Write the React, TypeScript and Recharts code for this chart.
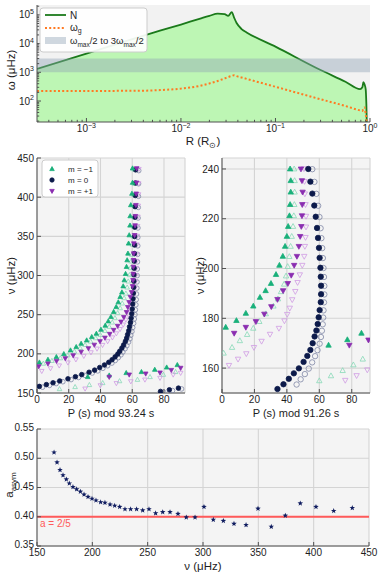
import React from "react";
import {
  Area,
  CartesianGrid,
  ComposedChart,
  Line,
  ReferenceArea,
  ReferenceLine,
  Scatter,
  ScatterChart,
  XAxis,
  YAxis,
} from "recharts";

const FONT = '"Liberation Sans", Arial, Helvetica, sans-serif';
const INK = "#1e1e1e";
const FRAME = "#505050";
const BG = "#f4f4f4";
const GRID = "#d4d4d4";
const GAP = 3;

const N_GREEN = "#1b7a1b";
const N_FILL = "#bdf6b4";
const ORANGE = "#ff7a22";
const BAND = "#8ea2b4";
const GREEN = "#19b07a";
const GREEN_LIGHT = "#88d9b7";
const NAVY = "#0c1a4a";
const NAVY_LIGHT = "#7f87a6";
const PURPLE = "#8a2db0";
const PURPLE_LIGHT = "#cf9be3";
const RED = "#ff5a5a";
const STAR = "#101d60";

// ---- propagation diagram (top)
const radius = [3e-4, 1e-3, 3e-3, 6e-3, 1e-2, 0.016, 0.02, 0.0245, 0.029, 0.0316, 0.0345, 0.0365, 0.0388, 0.0438, 0.0495, 0.1, 0.3, 0.55, 0.785, 0.83, 0.851, 0.875, 0.9, 0.915, 0.93];
const bruntN = [1.3e3, 4.5e3, 1.4e4, 2.8e4, 4.6e4, 7.4e4, 9.2e4, 1.1e5, 1.05e5, 9.2e4, 1.25e5, 8.0e4, 5.2e4, 3.2e4, 2.45e4, 7.8e3, 1.2e3, 4.7e2, 2.6e2, 3.0e2, 4.5e2, 3.8e2, 2.6e2, 80, 8];
const omegaG = [225, 225, 226, 240, 270, 340, 410, 500, 610, 680, 750, 790, 735, 660, 590, 313, 115, 67, 47, 45, 55, 60, 35, 22, 8];
const radiusTicks = [4e-4, 5e-4, 6e-4, 7e-4, 8e-4, 9e-4, 1e-3, 2e-3, 3e-3, 4e-3, 5e-3, 6e-3, 7e-3, 8e-3, 9e-3, 1e-2, 2e-2, 3e-2, 4e-2, 5e-2, 6e-2, 7e-2, 8e-2, 9e-2, 0.1, 0.2, 0.3, 0.4, 0.5, 0.6, 0.7, 0.8, 0.9, 1];
const omegaTicks = [20, 30, 40, 50, 60, 70, 80, 90, 100, 200, 300, 400, 500, 600, 700, 800, 900, 1e3, 2e3, 3e3, 4e3, 5e3, 6e3, 7e3, 8e3, 9e3, 1e4, 2e4, 3e4, 4e4, 5e4, 6e4, 7e4, 8e4, 9e4, 1e5, 2e5];
const bandLow = 1000;
const bandHigh = 3000;

// ---- échelle, left (ΔΠ = 93.24 s): [P mod ΔΠ, ν]
const leftM0 = [[77.8,152.0],[83.4,154.1],[89.1,156.2],[1.5,158.4],[5.9,160.7],[10.1,163.0],[14.3,165.4],[19.5,168.1],[24.2,170.8],[28.2,173.5],[32.8,176.5],[36.3,179.2],[39.5,182.5],[42.5,185.8],[45.2,189.2],[47.3,192.5],[49.2,196.1],[50.9,199.7],[52.1,203.3],[53.5,207.5],[54.6,211.4],[55.7,216.0],[56.5,220.2],[57.1,224.7],[57.8,229.5],[58.3,234.6],[58.9,240.0],[59.3,245.5],[59.7,251.2],[60.0,257.2],[60.3,263.6],[60.5,270.2],[60.7,277.4],[60.9,284.9],[61.0,292.8],[61.1,300.9],[61.2,309.3],[61.3,318.4],[61.4,328.0],[61.5,338.9],[61.5,349.7],[61.6,361.7],[61.7,374.4],[61.8,387.9],[61.9,402.1],[62.0,418.1],[62.1,434.9]];
const leftM0Open = [[79.8,151.0],[85.4,153.1],[91.1,155.2],[3.5,157.4],[7.9,159.7],[12.1,162.0],[16.3,164.4],[21.5,167.1],[26.2,169.8],[30.2,172.5],[34.8,175.5],[38.3,178.2],[41.5,181.5],[44.5,184.8],[47.2,188.2],[49.3,191.5],[51.2,195.1],[52.9,198.7],[54.1,202.3],[55.5,206.5],[56.6,210.4],[57.7,215.0],[58.5,219.2],[59.1,223.7],[59.8,228.5],[60.3,233.6],[60.9,239.0],[61.3,244.5],[61.7,250.2],[62.0,256.2],[62.3,262.6],[62.5,269.2],[62.7,276.4],[62.9,283.9],[63.0,291.8],[63.1,299.9],[63.2,308.3],[63.3,317.4],[63.4,327.0],[63.5,337.9],[63.5,348.7],[63.6,360.7],[63.7,373.4],[63.8,386.9],[63.9,401.1],[64.0,417.1],[64.1,433.9]];
const leftMm1 = [[32.0,170.5],[45.5,172.5],[56.2,175.6],[65.8,176.9],[74.2,179.8],[81.7,182.7],[88.4,185.8],[1.5,189.1],[6.9,192.6],[12.2,196.0],[16.9,199.8],[21.1,204.5],[24.7,208.8],[27.8,213.0],[31.3,217.3],[34.5,221.6],[37.4,225.8],[40.3,230.9],[43.0,236.1],[44.9,241.6],[46.6,247.2],[48.3,253.6],[49.9,259.9],[51.2,265.9],[52.4,272.7],[53.5,278.6],[54.3,286.3],[55.0,294.0],[55.8,302.1],[56.4,311.1],[56.8,319.6],[57.3,328.1],[57.7,340.9],[58.1,351.5],[58.6,363.9],[58.7,375.8],[59.1,389.9],[59.8,404.5],[60.2,418.5],[60.2,436.8]];
const leftMm1Open = [[14.2,155.1],[24.0,157.7],[33.0,160.3],[41.4,162.8],[52.0,165.2],[63.3,167.0],[71.2,170.5],[79.6,173.4],[87.3,176.9],[4.0,187.6],[9.4,191.1],[14.7,194.5],[19.4,198.3],[23.6,203.0],[27.2,207.3],[30.3,211.5],[33.8,215.8],[37.0,220.1],[39.9,224.3],[42.8,229.4],[45.5,234.6],[47.4,240.1],[49.1,245.7],[50.8,252.1],[52.4,258.4],[53.7,264.4],[54.9,271.2],[56.0,277.1],[56.8,284.8],[57.5,292.5],[58.3,300.6],[58.9,309.6],[59.3,318.1],[59.8,326.6],[60.2,339.4],[60.6,350.0],[61.0,362.4],[61.3,374.3],[61.5,388.4],[61.2,403.0],[61.4,417.0],[61.4,435.3]];
const leftMp1 = [[45.5,170.5],[58.1,173.4],[68.5,174.7],[77.5,176.0],[84.6,179.3],[90.5,182.0],[1.1,184.0],[6.9,187.5],[12.3,190.8],[17.8,194.2],[22.8,198.0],[27.8,202.5],[32.4,207.0],[36.1,211.5],[39.7,216.0],[42.8,220.5],[45.8,225.3],[48.3,230.4],[50.8,235.6],[52.9,241.0],[54.7,246.8],[56.4,253.2],[57.2,259.6],[58.0,265.9],[58.8,272.7],[59.6,278.6],[60.2,286.3],[60.5,294.0],[60.6,302.1],[60.7,311.1],[60.8,319.6],[60.9,328.1],[61.0,340.9],[61.5,351.5],[61.8,363.9],[62.0,375.8],[62.3,389.9],[62.5,404.5],[62.7,418.5],[62.8,436.8]];
const leftMp1Open = [[30.3,155.5],[39.9,159.7],[50.0,162.5],[59.1,164.8],[68.0,167.0],[77.5,169.2],[85.8,173.4],[90.5,175.6],[3.0,178.0],[8.5,181.5],[14.0,185.0],[19.5,188.8],[24.5,192.8],[29.5,197.2],[34.0,201.8],[37.8,206.5],[41.3,211.2],[44.5,216.0],[47.5,220.8],[50.0,226.0],[52.3,231.5],[54.3,237.2],[56.0,243.5],[57.6,250.0],[58.6,256.5],[59.5,263.0],[60.3,270.0],[61.0,276.5],[61.6,284.0],[62.0,292.0],[62.3,300.5],[62.5,309.5],[62.7,318.5],[62.8,327.0],[62.9,339.5],[63.2,350.5],[63.4,363.0],[63.6,375.0],[63.8,389.0],[64.0,403.5],[64.1,417.5],[64.2,435.8]];

// ---- échelle, right (ΔΠ = 91.26 s)
const rightM0 = [[34.2,151.6],[37.9,153.5],[41.2,155.7],[44.3,157.9],[47.4,159.9],[50.3,162.5],[52.6,164.9],[54.5,167.3],[55.9,170.0],[57.1,172.7],[58.2,175.1],[59.0,177.7],[59.6,180.4],[60.2,183.3],[60.9,186.5],[61.1,189.7],[61.1,193.1],[60.9,196.7],[60.7,200.3],[60.2,204.3],[59.8,208.3],[59.2,212.3],[58.6,216.3],[57.8,220.8],[56.9,225.3],[55.7,230.1],[54.5,234.9],[53.2,240.0]];
const rightM0Open = [[46.0,153.4],[48.5,155.5],[51.1,157.6],[53.5,159.8],[55.6,162.3],[57.4,164.8],[58.9,167.2],[60.2,169.8],[61.0,172.5],[61.6,175.0],[62.1,177.6],[62.4,180.3],[62.6,183.2],[62.9,186.4],[63.1,189.6],[63.1,193.0],[62.9,196.6],[62.6,200.2],[62.2,204.2],[61.8,208.2],[61.3,212.2],[60.8,216.2],[60.1,220.7],[59.3,225.2],[58.2,230.0],[57.0,234.8],[55.7,239.9]];
const rightMm1 = [[65.7,169.2],[77.3,171.4],[86.0,174.0],[2.3,176.4],[8.9,179.1],[14.7,182.0],[19.3,184.9],[23.4,188.4],[26.9,191.1],[30.2,194.0],[33.3,197.6],[35.4,201.3],[37.5,204.9],[38.9,208.9],[40.0,212.9],[40.8,216.9],[41.6,221.2],[42.0,225.7],[42.4,230.7],[42.4,235.3],[42.0,240.0]];
const rightMm1Open = [[60.0,154.9],[67.2,156.9],[74.4,159.0],[81.0,161.3],[86.8,163.6],[1.0,166.0],[6.2,168.3],[11.0,171.0],[15.5,173.5],[19.3,176.0],[23.0,178.7],[27.0,181.8],[31.7,184.9],[34.5,187.8],[36.4,190.7],[38.3,193.7],[39.5,197.0],[40.5,200.8],[41.5,204.8],[42.3,208.9],[43.0,212.9],[43.8,216.9],[44.3,221.2],[44.6,225.7],[44.8,230.7],[44.8,235.3],[44.5,240.0]];
const rightMp1 = [[78.5,169.2],[90.3,171.3],[7.5,174.0],[14.7,176.4],[20.9,178.7],[26.1,181.7],[30.4,184.7],[34.2,187.6],[37.7,191.1],[40.6,194.0],[42.7,197.3],[44.5,201.3],[46.2,204.9],[47.4,208.9],[48.2,212.9],[48.9,216.9],[49.3,221.2],[49.5,225.7],[49.7,230.7],[49.3,235.3],[48.7,240.0]];
const rightMp1Open = [[76.0,155.1],[83.0,157.0],[89.6,159.3],[4.3,161.1],[9.9,163.6],[15.0,165.8],[19.7,168.3],[24.4,170.8],[29.6,173.6],[35.1,176.0],[38.5,179.0],[40.2,181.6],[41.8,184.1],[43.3,187.5],[45.2,190.8],[46.6,194.4],[48.0,197.5],[49.5,201.3],[50.7,204.9],[51.1,208.9],[51.5,212.5],[51.8,216.7],[51.8,221.0],[51.5,225.7],[51.1,230.0],[50.9,235.0],[50.5,240.1]];

const periodTicks = [0, 20, 40, 60, 80];
const leftNuTicks = [150, 200, 250, 300, 350, 400, 450];
const rightNuTicks = [160, 180, 200, 220, 240];

// ---- asymmetry (bottom)
const asymNu = [165.4,168.1,170.8,173.5,176.5,179.2,182.5,185.8,189.2,192.5,196.1,199.7,203.3,207.5,211.4,216.0,220.2,224.7,229.5,234.6,240.0,245.5,251.2,257.2,263.6,270.2,277.4,284.9,292.8,300.9,309.3,318.4,328.0,338.9,349.7,361.7,374.4,387.9,402.1,418.1,434.9];
const asymA = [0.510,0.493,0.480,0.471,0.464,0.457,0.451,0.447,0.443,0.438,0.434,0.431,0.428,0.425,0.424,0.421,0.419,0.417,0.413,0.413,0.413,0.411,0.413,0.406,0.408,0.408,0.405,0.399,0.399,0.417,0.395,0.393,0.388,0.386,0.414,0.383,0.402,0.423,0.417,0.410,0.415];
const asymNuTicks = [150, 200, 250, 300, 350, 400, 450];
const asymTicks = [0.35, 0.4, 0.45, 0.5, 0.55];
const asymRef = 0.4;

const txt = { fontFamily: FONT, fontSize: 10, fill: INK };
const title = { fontFamily: FONT, fontSize: 11.5, fill: INK };

const isDecade = (v: number) => Math.abs(Math.log10(v) - Math.round(Math.log10(v))) < 1e-6;
const plain = (v: number) => String(v);

function pow10(v: number) {
  const k = Math.round(Math.log10(v));
  return (
    <>
      <tspan>10</tspan>
      <tspan dy={-4.5} fontSize={7}>{k < 0 ? `\u2212${-k}` : String(k)}</tspan>
    </>
  );
}

function tickFor(side: string, fmt?: (v: number) => React.ReactNode, isMajor?: (v: number) => boolean, lift = 0) {
  return (p: any) => {
    const v = p.payload.value;
    const major = isMajor ? isMajor(v) : true;
    const len = major ? 4 : 2.2;
    if (side === "bottom") {
      const y0 = p.y - GAP;
      return (
        <g>
          <line x1={p.x} x2={p.x} y1={y0} y2={y0 - len} stroke={FRAME} />
          {major && fmt ? <text x={p.x} y={p.y} dy="0.72em" textAnchor="middle" {...txt}>{fmt(v)}</text> : null}
        </g>
      );
    }
    if (side === "left") {
      const x0 = p.x + GAP;
      return (
        <g>
          <line x1={x0} x2={x0 + len} y1={p.y} y2={p.y} stroke={FRAME} />
          {major && fmt ? <text x={p.x} y={p.y - lift} dy="0.36em" textAnchor="end" {...txt}>{fmt(v)}</text> : null}
        </g>
      );
    }
    if (side === "top") return <line x1={p.x} x2={p.x} y1={p.y} y2={p.y + len} stroke={FRAME} />;
    return <line x1={p.x} x2={p.x - len} y1={p.y} y2={p.y} stroke={FRAME} />;
  };
}

const pts = (rows: number[][]) => rows.map(([x, y]) => ({ x, y }));

const up = (fill: string, stroke: string, w: number) => (p: any) => {
  const h = w * 0.9;
  return <polygon points={`${p.cx},${p.cy - h * 0.6} ${p.cx - w / 2},${p.cy + h * 0.4} ${p.cx + w / 2},${p.cy + h * 0.4}`} fill={fill} stroke={stroke} strokeWidth={0.8} />;
};
const down = (fill: string, stroke: string, w: number) => (p: any) => {
  const h = w * 0.9;
  return <polygon points={`${p.cx},${p.cy + h * 0.6} ${p.cx - w / 2},${p.cy - h * 0.4} ${p.cx + w / 2},${p.cy - h * 0.4}`} fill={fill} stroke={stroke} strokeWidth={0.8} />;
};
const ring = (fill: string, stroke: string, r: number) => (p: any) => (
  <circle cx={p.cx} cy={p.cy} r={r} fill={fill} stroke={stroke} strokeWidth={0.8} />
);
const star = (fill: string, R: number) => (p: any) => {
  const corners: string[] = [];
  for (let i = 0; i < 10; i++) {
    const a = -Math.PI / 2 + (i * Math.PI) / 5;
    const rr = i % 2 ? R * 0.42 : R;
    corners.push(`${p.cx + rr * Math.cos(a)},${p.cy + rr * Math.sin(a)}`);
  }
  return <polygon points={corners.join(" ")} fill={fill} />;
};

function PropagationLegend() {
  return (
    <svg width={110} height={46} style={{ position: "absolute", left: 39, top: 7 }}>
      <rect x={1} y={1} width={107} height={44} rx={3} fill="#fff" fillOpacity={0.92} stroke="#cccccc" />
      <line x1={6} x2={27} y1={8} y2={8} stroke={N_GREEN} strokeWidth={1.8} />
      <text x={31} y={11.5} {...txt}>N</text>
      <line x1={6} x2={27} y1={21} y2={21} stroke={ORANGE} strokeWidth={2} strokeDasharray="2 2.2" />
      <text x={31} y={23.5} {...txt}>ω<tspan dy={2.5} fontSize={7}>g</tspan></text>
      <rect x={6} y={30} width={21} height={7} fill={BAND} fillOpacity={0.42} />
      <text x={31} y={37} {...txt} fontSize={9.5}>
        ω<tspan dy={2.5} fontSize={6.5}>max</tspan><tspan dy={-2.5}>/2 to 3ω</tspan><tspan dy={2.5} fontSize={6.5}>max</tspan><tspan dy={-2.5}>/2</tspan>
      </text>
    </svg>
  );
}

function PropagationPanel() {
  const rows = radius.map((r, i) => ({ r, N: bruntN[i], wg: omegaG[i] }));
  return (
    <div style={{ position: "relative", width: 382, height: 150 }}>
      <ComposedChart width={382} height={150} data={rows} margin={{ top: 5, right: 12, bottom: 0, left: 0 }}>
        <CartesianGrid horizontal={false} vertical={false} fill="#f2f2f2" />
        <XAxis dataKey="r" type="number" scale="log" domain={[3e-4, 1]} allowDataOverflow ticks={radiusTicks} interval={0}
          height={28} tickSize={0} tickMargin={GAP} axisLine={{ stroke: FRAME }} tick={tickFor("bottom", pow10, isDecade)} />
        <XAxis xAxisId="top" orientation="top" type="number" scale="log" domain={[3e-4, 1]} allowDataOverflow ticks={radiusTicks} interval={0}
          height={0} tickSize={0} tickMargin={0} axisLine={{ stroke: FRAME }} tick={tickFor("top", undefined, isDecade)} />
        <YAxis type="number" scale="log" domain={[18.6, 2.2e5]} allowDataOverflow ticks={omegaTicks} interval={0}
          width={37} tickSize={0} tickMargin={GAP} axisLine={{ stroke: FRAME }} tick={tickFor("left", pow10, isDecade)} />
        <YAxis yAxisId="right" orientation="right" type="number" scale="log" domain={[18.6, 2.2e5]} allowDataOverflow ticks={omegaTicks} interval={0}
          width={0} tickSize={0} tickMargin={0} axisLine={{ stroke: FRAME }} tick={tickFor("right", undefined, isDecade)} />
        <Area dataKey="N" type="monotone" stroke={N_GREEN} strokeWidth={1.8} fill={N_FILL} fillOpacity={1} isAnimationActive={false} />
        <ReferenceArea y1={bandLow} y2={bandHigh} fill={BAND} fillOpacity={0.42} stroke="none" />
        <Line dataKey="wg" type="monotone" stroke={ORANGE} strokeWidth={2} strokeDasharray="2 2.2" dot={false} isAnimationActive={false} />
        <text x={203} y={145} textAnchor="middle" {...title}>
          R (R<tspan dy={2.5} fontSize={8}>{"\u2299"}</tspan><tspan dy={-2.5}>)</tspan>
        </text>
        <text transform="translate(15,70) rotate(-90)" textAnchor="middle" {...title}>ω (μHz)</text>
      </ComposedChart>
      <PropagationLegend />
    </div>
  );
}

function Echelle(props: any) {
  const { period, nuDomain, nuTicks, right, yWidth, titleX, w, r, sets, legend } = props;
  const plotCx = (yWidth + (191 - right)) / 2;
  return (
    <ScatterChart width={191} height={270} margin={{ top: 8, right, bottom: 0, left: 0 }}>
      <CartesianGrid stroke={GRID} strokeWidth={1.1} fill={BG} />
      <XAxis type="number" dataKey="x" domain={[0, period]} allowDataOverflow ticks={periodTicks} interval={0}
        height={27} tickSize={0} tickMargin={GAP} axisLine={{ stroke: FRAME }} tick={tickFor("bottom", plain)} />
      <XAxis xAxisId="top" orientation="top" type="number" domain={[0, period]} allowDataOverflow ticks={periodTicks} interval={0}
        height={0} tickSize={0} tickMargin={0} axisLine={{ stroke: FRAME }} tick={tickFor("top")} />
      <YAxis type="number" dataKey="y" domain={nuDomain} allowDataOverflow ticks={nuTicks} interval={0}
        width={yWidth} tickSize={0} tickMargin={GAP} axisLine={{ stroke: FRAME }} tick={tickFor("left", plain)} />
      <YAxis yAxisId="right" orientation="right" type="number" domain={nuDomain} allowDataOverflow ticks={nuTicks} interval={0}
        width={0} tickSize={0} tickMargin={0} axisLine={{ stroke: FRAME }} tick={tickFor("right")} />
      <Scatter data={pts(sets.m0Open)} shape={ring("none", NAVY_LIGHT, r)} isAnimationActive={false} />
      <Scatter data={pts(sets.mm1Open)} shape={up("none", GREEN_LIGHT, w)} isAnimationActive={false} />
      <Scatter data={pts(sets.mp1Open)} shape={down("none", PURPLE_LIGHT, w)} isAnimationActive={false} />
      <Scatter data={pts(sets.m0)} shape={ring(NAVY, NAVY, r)} isAnimationActive={false} />
      <Scatter data={pts(sets.mm1)} shape={up(GREEN, GREEN, w)} isAnimationActive={false} />
      <Scatter data={pts(sets.mp1)} shape={down(PURPLE, PURPLE, w)} isAnimationActive={false} />
      <text x={plotCx} y={267} textAnchor="middle" {...title} fontSize={11}>P (s) mod {period} s</text>
      <text transform={`translate(${titleX},125.5) rotate(-90)`} textAnchor="middle" {...title}>ν (μHz)</text>
      {legend ? (
        <g>
          <rect x={42} y={10} width={56} height={37} rx={3} fill="#fff" stroke="#cccccc" />
          {up(GREEN, GREEN, 4.5)({ cx: 52, cy: 19 })}
          {ring(NAVY, NAVY, 2.2)({ cx: 52, cy: 30 })}
          {down(PURPLE, PURPLE, 4.5)({ cx: 52, cy: 41 })}
          <text x={68} y={22} {...txt} fontSize={8}>m = −1</text>
          <text x={68} y={33} {...txt} fontSize={8}>m =  0</text>
          <text x={68} y={44} {...txt} fontSize={8}>m = +1</text>
        </g>
      ) : null}
    </ScatterChart>
  );
}

function AsymPanel() {
  const data = asymNu.map((nu, i) => ({ x: nu, y: asymA[i] }));
  return (
    <ScatterChart width={382} height={155} margin={{ top: 9, right: 13, bottom: 0, left: 0 }}>
      <CartesianGrid stroke={GRID} strokeWidth={1.1} fill={BG} />
      <XAxis type="number" dataKey="x" domain={[150, 450]} allowDataOverflow ticks={asymNuTicks} interval={0}
        height={29} tickSize={0} tickMargin={GAP} axisLine={{ stroke: FRAME }} tick={tickFor("bottom", plain)} />
      <XAxis xAxisId="top" orientation="top" type="number" domain={[150, 450]} allowDataOverflow ticks={asymNuTicks} interval={0}
        height={0} tickSize={0} tickMargin={0} axisLine={{ stroke: FRAME }} tick={tickFor("top")} />
      <YAxis type="number" dataKey="y" domain={[0.35, 0.55]} allowDataOverflow ticks={asymTicks} interval={0}
        width={37} tickSize={0} tickMargin={GAP} axisLine={{ stroke: FRAME }} tick={tickFor("left", (v) => v.toFixed(2), undefined, 1.5)} />
      <YAxis yAxisId="right" orientation="right" type="number" domain={[0.35, 0.55]} allowDataOverflow ticks={asymTicks} interval={0}
        width={0} tickSize={0} tickMargin={0} axisLine={{ stroke: FRAME }} tick={tickFor("right")} />
      <ReferenceLine y={asymRef} stroke={RED} strokeWidth={2}
        label={{ value: "a = 2/5", position: "insideTopLeft", offset: 3, fill: RED, fontSize: 10, fontFamily: FONT }} />
      <Scatter data={data} shape={star(STAR, 2.9)} isAnimationActive={false} />
      <text x={203} y={150} textAnchor="middle" {...title}>ν (μHz)</text>
      <text transform="translate(13,65) rotate(-90)" textAnchor="middle" {...title}>
        a<tspan dy={2.5} fontSize={8}>asym</tspan>
      </text>
    </ScatterChart>
  );
}

export default function App() {
  return (
    <div style={{ position: "absolute", left: 0, top: 0, width: 382, height: 575, background: "#fff" }}>
      <div style={{ position: "absolute", left: 0, top: 0 }}>
        <PropagationPanel />
      </div>
      <div style={{ position: "absolute", left: 0, top: 150 }}>
        <Echelle period={93.24} nuDomain={[150, 450]} nuTicks={leftNuTicks} right={6} yWidth={37} titleX={15} w={4.6} r={2.3}
          sets={{ m0: leftM0, m0Open: leftM0Open, mm1: leftMm1, mm1Open: leftMm1Open, mp1: leftMp1, mp1Open: leftMp1Open }} legend />
      </div>
      <div style={{ position: "absolute", left: 191, top: 150 }}>
        <Echelle period={91.26} nuDomain={[150, 244.4]} nuTicks={rightNuTicks} right={12} yWidth={31} titleX={13} w={5.4} r={2.7}
          sets={{ m0: rightM0, m0Open: rightM0Open, mm1: rightMm1, mm1Open: rightMm1Open, mp1: rightMp1, mp1Open: rightMp1Open }} />
      </div>
      <div style={{ position: "absolute", left: 0, top: 420 }}>
        <AsymPanel />
      </div>
    </div>
  );
}
